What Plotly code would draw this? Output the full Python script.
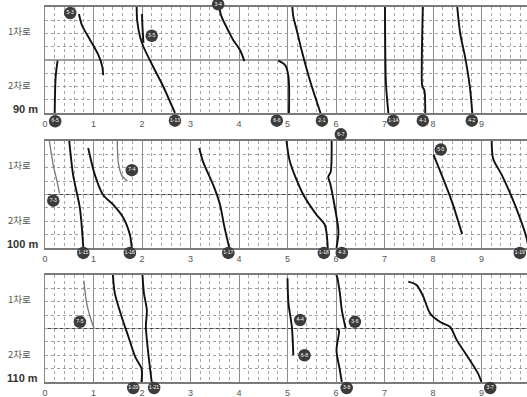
import plotly.graph_objects as go
from plotly.subplots import make_subplots

# ---------------- data ----------------
X_TICKS = [0, 1, 2, 3, 4, 5, 6, 7, 8, 9]
PANEL_LABELS = ["90 m", "100 m", "110 m"]
LANE_LABELS = ["1차로", "2차로"]
LANE_LABEL_Y = [6.2, 2.1]

# Panel 1 (90 m) trajectories
P1_53_X = [0.70, 0.76, 0.93, 1.10, 1.18, 1.20]
P1_53_Y = [7.47, 6.64, 5.51, 4.38, 3.52, 2.87]
P1_65_X = [0.26, 0.22, 0.20]
P1_65_Y = [3.95, 2.74, 0.0]
P1_113_X = [1.89, 1.90, 1.96, 2.03, 2.23, 2.44, 2.68]
P1_113_Y = [8.0, 7.0, 5.76, 5.0, 3.49, 1.98, 0.0]
P1_35_X = [2.00, 2.01, 2.03]
P1_35_Y = [7.47, 6.5, 5.3]
P1_34_X = [3.59, 3.64, 3.81, 3.88, 4.02, 4.11]
P1_34_Y = [8.0, 7.27, 6.0, 5.51, 4.75, 3.92]
P1_66_X = [4.81, 4.95, 5.02, 5.03]
P1_66_Y = [3.95, 3.62, 2.74, 0.0]
P1_21_X = [5.10, 5.12, 5.19, 5.29, 5.46, 5.68]
P1_21_Y = [8.0, 7.27, 6.26, 4.75, 2.49, 0.0]
P1_114_X = [7.01, 7.03, 7.08]
P1_114_Y = [8.0, 2.24, 0.0]
P1_41_X = [7.79, 7.77, 7.78, 7.82, 7.84]
P1_41_Y = [8.0, 4.0, 1.98, 1.74, 0.0]
P1_42_X = [8.50, 8.56, 8.66, 8.76, 8.81]
P1_42_Y = [8.0, 6.02, 4.25, 1.98, 0.0]

# Panel 2 (100 m) trajectories
P2_73_X = [0.09, 0.17, 0.25, 0.30]
P2_73_Y = [8.0, 6.19, 4.95, 4.08]
P2_115_X = [0.50, 0.58, 0.72, 0.79]
P2_115_Y = [8.0, 5.45, 2.97, 0.0]
P2_116_X = [0.89, 1.03, 1.20, 1.41, 1.62, 1.75, 1.79]
P2_116_Y = [7.48, 5.45, 3.96, 3.22, 2.23, 0.99, 0.0]
P2_74_X = [1.49, 1.51, 1.58, 1.70]
P2_74_Y = [8.0, 6.44, 5.45, 5.0]
P2_117_X = [3.18, 3.26, 3.47, 3.61, 3.69, 3.80]
P2_117_Y = [7.48, 6.44, 4.70, 3.22, 1.73, 0.0]
P2_118_X = [4.98, 5.05, 5.33, 5.60, 5.77, 5.83]
P2_118_Y = [8.0, 6.44, 3.96, 2.48, 1.73, 0.0]
P2_43_X = [5.91, 5.89, 5.84, 5.88, 5.98, 6.05, 6.01]
P2_43_Y = [8.0, 5.69, 5.32, 4.83, 2.97, 1.24, 0.0]
P2_55_X = [8.01, 8.18, 8.39, 8.60]
P2_55_Y = [6.98, 5.45, 3.47, 1.04]
P2_119_X = [9.21, 9.24, 9.42, 9.69, 9.93, 9.97]
P2_119_Y = [8.0, 6.68, 5.45, 3.22, 0.74, 0.0]

# Panel 3 (110 m) trajectories
P3_75_X = [0.80, 0.86, 0.93, 1.01]
P3_75_Y = [7.58, 5.88, 4.88, 4.0]
P3_120_X = [1.40, 1.44, 1.58, 1.72, 1.86, 1.99, 1.99]
P3_120_Y = [8.0, 6.63, 4.88, 3.38, 1.88, 1.0, 0.0]
P3_121_X = [2.01, 2.04, 2.10, 2.08, 2.13, 2.20]
P3_121_Y = [8.0, 6.63, 5.38, 4.13, 2.13, 0.0]
P3_44_X = [5.00, 5.02, 5.09, 5.12]
P3_44_Y = [7.75, 5.88, 4.13, 2.0]
P3_36_X = [6.00, 6.02, 6.08, 6.12, 6.20]
P3_36_Y = [8.05, 7.9, 6.63, 5.38, 4.0]
P3_38_X = [6.01, 6.06, 6.01, 6.08, 6.12]
P3_38_Y = [4.0, 3.88, 2.38, 0.88, 0.0]
P3_37_X = [7.49, 7.66, 7.80, 7.94, 8.14, 8.35, 8.49, 8.76, 8.93, 9.00]
P3_37_Y = [7.5, 7.25, 6.38, 5.13, 4.5, 4.13, 3.13, 1.63, 0.63, 0.0]

# Vehicle ID badges (label, x, y) per panel
P1_BADGE_TEXT = ["5-3", "3-5", "3-4", "6-5", "1-13", "6-6", "2-1", "1-14", "4-1", "4-2"]
P1_BADGE_X = [0.52, 2.20, 3.57, 0.21, 2.68, 4.78, 5.71, 7.18, 7.79, 8.80]
P1_BADGE_Y = [7.55, 5.83, 8.2, -0.62, -0.58, -0.58, -0.58, -0.58, -0.58, -0.58]
P2_BADGE_TEXT = ["7-3", "7-4", "1-15", "1-16", "1-17", "6-7", "5-5", "1-18", "4-3", "1-19"]
P2_BADGE_X = [0.17, 1.79, 0.79, 1.75, 3.78, 6.10, 8.16, 5.75, 6.12, 9.79]
P2_BADGE_Y = [3.54, 5.82, -0.37, -0.37, -0.37, 8.50, 7.36, -0.37, -0.37, -0.37]
P3_BADGE_TEXT = ["7-5", "1-20", "1-21", "4-4", "6-8", "3-6", "3-8", "3-7"]
P3_BADGE_X = [0.72, 1.82, 2.25, 5.26, 5.35, 6.39, 6.22, 9.18]
P3_BADGE_Y = [4.5, -0.45, -0.45, 4.63, 2.0, 4.5, -0.45, -0.45]

# ---------------- figure ----------------
BLACK = "#111111"
GRAY = "#777777"

panels = [
    [(P1_53_X, P1_53_Y, BLACK), (P1_65_X, P1_65_Y, BLACK), (P1_113_X, P1_113_Y, BLACK),
     (P1_35_X, P1_35_Y, BLACK), (P1_34_X, P1_34_Y, BLACK), (P1_66_X, P1_66_Y, BLACK),
     (P1_21_X, P1_21_Y, BLACK), (P1_114_X, P1_114_Y, BLACK), (P1_41_X, P1_41_Y, BLACK),
     (P1_42_X, P1_42_Y, BLACK)],
    [(P2_73_X, P2_73_Y, GRAY), (P2_115_X, P2_115_Y, BLACK), (P2_116_X, P2_116_Y, BLACK),
     (P2_74_X, P2_74_Y, GRAY), (P2_117_X, P2_117_Y, BLACK), (P2_118_X, P2_118_Y, BLACK),
     (P2_43_X, P2_43_Y, BLACK), (P2_55_X, P2_55_Y, BLACK), (P2_119_X, P2_119_Y, BLACK)],
    [(P3_75_X, P3_75_Y, GRAY), (P3_120_X, P3_120_Y, BLACK), (P3_121_X, P3_121_Y, BLACK),
     (P3_44_X, P3_44_Y, BLACK), (P3_36_X, P3_36_Y, BLACK), (P3_38_X, P3_38_Y, BLACK),
     (P3_37_X, P3_37_Y, BLACK)],
]
badges = [
    (P1_BADGE_X, P1_BADGE_Y, P1_BADGE_TEXT),
    (P2_BADGE_X, P2_BADGE_Y, P2_BADGE_TEXT),
    (P3_BADGE_X, P3_BADGE_Y, P3_BADGE_TEXT),
]

W, H = 527, 397
L = 45
XMAX = (W - L) / 48.5
# panel pixel placement (top, bottom) and wider box for badges overflowing the grid
PIX = [(7, 113), (141, 248), (275, 382)]
BADGE_PIX = [(0, 134), (126, 266), (260, 397)]

fig = make_subplots(rows=3, cols=1)

for i, trajs in enumerate(panels):
    r = i + 1
    for xs, ys, col in trajs:
        fig.add_trace(go.Scatter(
            x=xs, y=ys, mode="lines",
            line=dict(color=col, width=1.9 if col == BLACK else 1.3, shape="spline", smoothing=0.8),
            hoverinfo="skip", showlegend=False, cliponaxis=True), row=r, col=1)

for i, (top, bot) in enumerate(PIX):
    r = i + 1
    dom = [1 - bot / H, 1 - top / H]
    fig.update_yaxes(row=r, col=1, domain=dom, range=[0, 8], dtick=1,
                     showticklabels=False, ticks="",
                     showgrid=True, gridcolor="#a0a0a0", gridwidth=1, griddash="dot",
                     zeroline=False, showline=True, linecolor="#888888", linewidth=1,
                     mirror=False)
    fig.update_xaxes(row=r, col=1, range=[0, XMAX], tickvals=X_TICKS,
                     ticktext=[str(v) for v in X_TICKS], ticks="", ticklen=0,
                     tickfont=dict(size=9, color="#555555", family="Liberation Sans"),
                     ticklabelstandoff=1, automargin=False,
                     showgrid=True, gridcolor="#8c8c8c", gridwidth=1,
                     minor=dict(dtick=0.2, showgrid=True, gridcolor="#a6a6a6",
                                gridwidth=1, griddash="dot"),
                     zeroline=False, showline=True, linecolor="#7a7a7a", linewidth=1.5,
                     mirror=True)
    yref = "y" if r == 1 else f"y{r}"
    xref = "x" if r == 1 else f"x{r}"
    fig.add_shape(type="line", xref=f"{xref} domain", yref=yref, x0=0, x1=1, y0=4, y1=4,
                  line=dict(color="#444444", width=1.2), layer="below")
    for lab, ly in zip(LANE_LABELS, LANE_LABEL_Y):
        fig.add_annotation(text=lab, xref="paper", yref=yref, x=0, y=ly,
                           xanchor="right", xshift=-12, showarrow=False,
                           font=dict(size=9.5, color="#555555", family="Noto Sans CJK KR"))
    fig.add_annotation(text=f"<b>{PANEL_LABELS[i]}</b>", xref="paper", yref=yref, x=0, y=0,
                       xanchor="right", yanchor="bottom", xshift=-5, yshift=-4, showarrow=False,
                       font=dict(size=11, color="#333333", family="Liberation Sans"))

# invisible overlay subplots for the ID badges (so badges outside the grid stay visible)
layout_extra = {}
for i, ((top, bot), (dtop, dbot)) in enumerate(zip(PIX, BADGE_PIX)):
    n = 4 + i
    unit = (bot - top) / 8.0
    lo = -(dbot - bot) / unit
    hi = 8 + (top - dtop) / unit
    layout_extra[f"xaxis{n}"] = dict(domain=[0, 1], range=[0, XMAX], visible=False,
                                     anchor=f"y{n}", fixedrange=True)
    layout_extra[f"yaxis{n}"] = dict(domain=[1 - dbot / H, 1 - dtop / H], range=[lo, hi],
                                     visible=False, anchor=f"x{n}", fixedrange=True)
    bx, by, bt = badges[i]
    fig.add_trace(go.Scatter(
        x=bx, y=by, mode="markers+text", text=bt, textposition="middle center",
        textfont=dict(size=5, color="white", family="Liberation Sans"),
        marker=dict(size=12.5, color="#3c3c3c", line=dict(width=0)),
        xaxis=f"x{n}", yaxis=f"y{n}",
        cliponaxis=False, hoverinfo="skip", showlegend=False))

fig.update_layout(width=W, height=H, margin=dict(l=L, r=0, t=0, b=0, autoexpand=False),
                  plot_bgcolor="rgba(0,0,0,0)", paper_bgcolor="white", showlegend=False,
                  **layout_extra)

fig.write_html("out.html", config={"displayModeBar": False},
               post_script="document.body.style.margin='0';document.body.style.overflow='hidden';")
